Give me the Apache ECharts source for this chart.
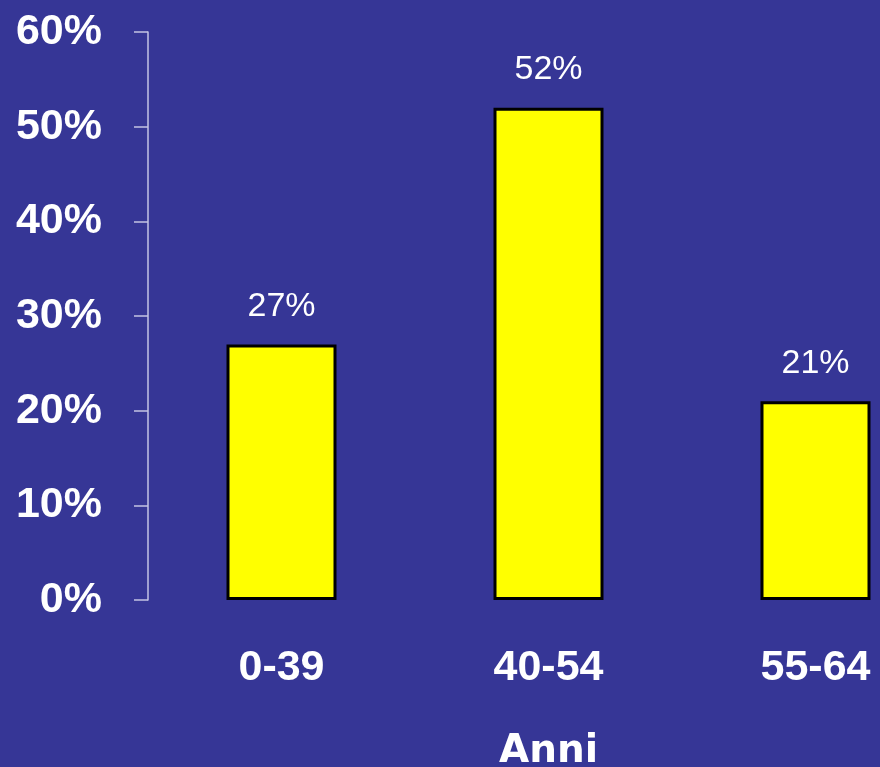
<!DOCTYPE html>
<html>
<head>
<meta charset="utf-8">
<style>
  html, body { margin: 0; padding: 0; background: #363696; }
  #chart { width: 880px; height: 767px; }
</style>
<script src="https://cdn.jsdelivr.net/npm/echarts@6/dist/echarts.min.js"></script>
</head>
<body>
<div id="chart"></div>
<script>
// Age groups and share of people in each
const categories = ['0-39', '40-54', '55-64'];
const shares = [27, 52, 21];
const axisTitle = 'Anni';

const chart = echarts.init(document.getElementById('chart'), null, { renderer: 'canvas' });

chart.setOption({
  backgroundColor: '#363696',
  animation: false,
  grid: {
    left: 148,
    top: 32,
    width: 801,
    height: 568,
    containLabel: false,
    outerBoundsMode: 'none'
  },
  xAxis: {
    type: 'category',
    data: categories,
    name: axisTitle,
    nameLocation: 'middle',
    nameGap: 132,
    nameTextStyle: {
      color: '#ffffff',
      fontFamily: 'DejaVu Sans',
      fontWeight: 'bold',
      fontSize: 39
    },
    axisLine: { show: false },
    axisTick: { show: false },
    axisLabel: {
      color: '#ffffff',
      fontFamily: 'Liberation Sans',
      fontWeight: 'bold',
      fontSize: 43,
      margin: 47
    }
  },
  yAxis: {
    type: 'value',
    min: 0,
    max: 60,
    interval: 10,
    splitLine: { show: false },
    axisLine: { show: true, lineStyle: { color: '#c4c4e4', width: 1.5 } },
    axisTick: { show: true, length: 14, lineStyle: { color: '#c4c4e4', width: 1.5 } },
    axisLabel: {
      color: '#ffffff',
      fontFamily: 'Liberation Sans',
      fontWeight: 'bold',
      fontSize: 43,
      margin: 46,
      padding: [4, 0, 0, 0],
      formatter: '{value}%'
    }
  },
  series: [{
    type: 'bar',
    data: shares,
    barWidth: 110,
    itemStyle: {
      color: '#ffff00',
      borderColor: '#000000',
      borderWidth: 3
    },
    label: {
      show: true,
      position: 'top',
      distance: 21,
      color: '#ffffff',
      fontFamily: 'Liberation Sans',
      fontSize: 34,
      formatter: '{c}%'
    }
  }]
});
</script>
</body>
</html>
